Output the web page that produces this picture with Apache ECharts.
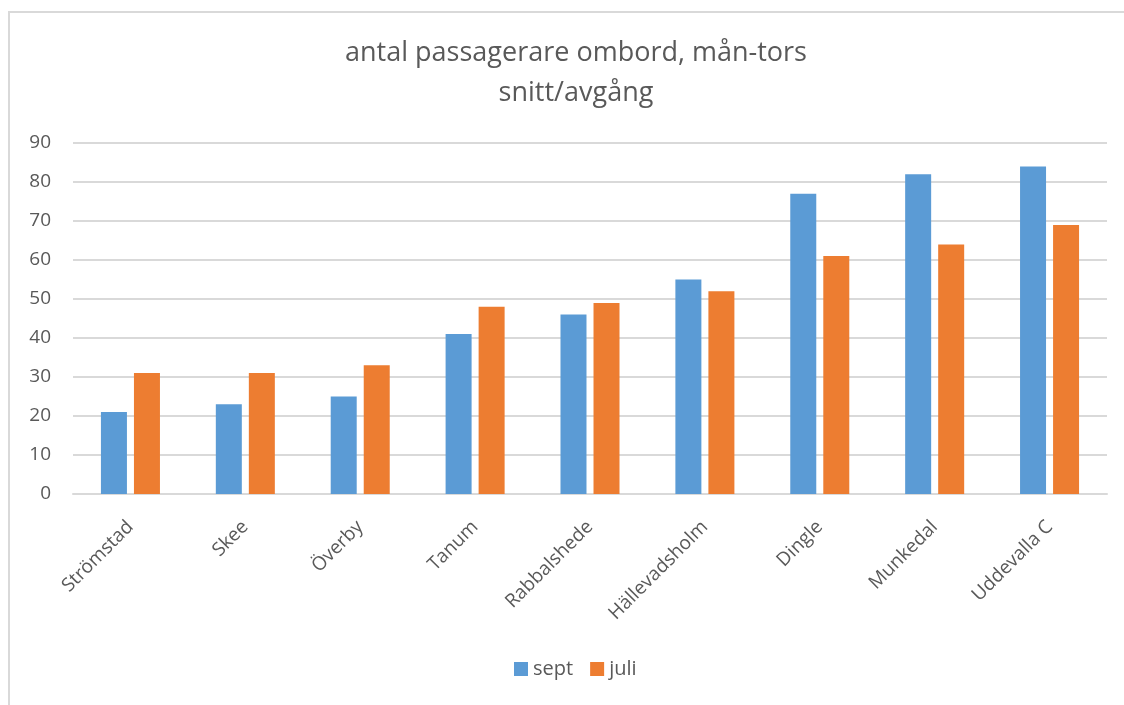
<!DOCTYPE html>
<html>
<head>
<meta charset="utf-8">
<script src="https://cdn.jsdelivr.net/npm/echarts@6/dist/echarts.min.js"></script>
<style>
  html, body { margin: 0; padding: 0; background: #fff; }
  #chart { width: 1124px; height: 705px; }
</style>
</head>
<body>
<div id="chart"></div>
<script>
// Stations along the line, south-bound order
const stations = ['Strömstad', 'Skee', 'Överby', 'Tanum', 'Rabbalshede', 'Hällevadsholm', 'Dingle', 'Munkedal', 'Uddevalla C'];
// Average passengers on board per departure, Mon–Thu
const sept = [21, 23, 25, 41, 46, 55, 77, 82, 84];
const juli = [31, 31, 33, 48, 49, 52, 61, 64, 69];
const seriesNames = ['sept', 'juli'];
const yTicks = { min: 0, max: 90, interval: 10 };

const textColor = '#595959';
const fontFamily = '"Open Sans", "Liberation Sans", sans-serif';

const chart = echarts.init(document.getElementById('chart'), null, { renderer: 'canvas' });
chart.setOption({
  animation: false,
  backgroundColor: '#fff',
  title: {
    text: 'antal passagerare ombord, mån-tors\nsnitt/avgång',
    left: 571,
    textAlign: 'center',
    top: 28,
    textStyle: {
      fontFamily: fontFamily,
      fontWeight: 'normal',
      fontSize: 27,
      lineHeight: 40,
      color: textColor
    }
  },
  legend: {
    data: seriesNames,
    bottom: 21,
    left: 509,
    itemWidth: 14,
    itemHeight: 14,
    itemGap: 17,
    icon: 'rect',
    textStyle: { fontFamily: fontFamily, fontSize: 20, color: textColor }
  },
  grid: { left: 73, right: 17, top: 143, bottom: 211, containLabel: false },
  xAxis: {
    type: 'category',
    data: stations,
    axisLine: { lineStyle: { color: '#d9d9d9', width: 2 } },
    axisTick: { show: false },
    axisLabel: {
      rotate: 45,
      interval: 0,
      margin: 30,
      fontFamily: fontFamily,
      fontSize: 19,
      color: textColor
    }
  },
  yAxis: {
    type: 'value',
    min: yTicks.min,
    max: yTicks.max,
    interval: yTicks.interval,
    axisLine: { show: false },
    axisTick: { show: false },
    axisLabel: { margin: 22, fontFamily: fontFamily, fontSize: 19, color: textColor },
    splitLine: { lineStyle: { color: '#d9d9d9', width: 2 } }
  },
  series: [
    {
      name: seriesNames[0],
      type: 'bar',
      data: sept,
      barWidth: 26,
      barGap: '27%',
      itemStyle: { color: '#5b9bd5' }
    },
    {
      name: seriesNames[1],
      type: 'bar',
      data: juli,
      barWidth: 26,
      barGap: '27%',
      itemStyle: { color: '#ed7d31' }
    }
  ],
  graphic: [
    {
      type: 'polyline',
      silent: true,
      shape: { points: [[9, 705], [9, 12], [1124, 12]] },
      style: { stroke: '#d9d9d9', lineWidth: 2, fill: null }
    }
  ]
});
</script>
</body>
</html>
